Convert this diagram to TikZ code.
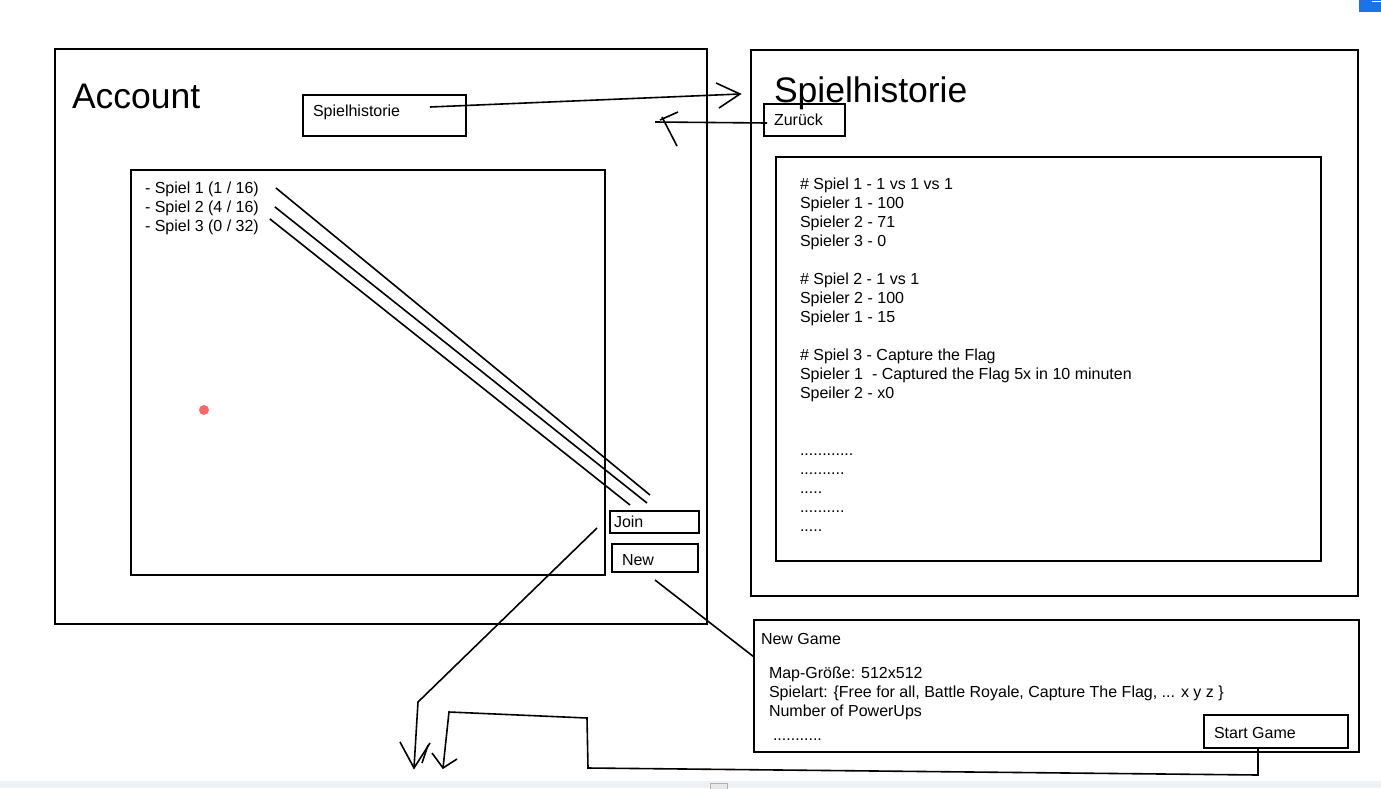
\documentclass[tikz,border=0pt]{standalone}
\usepackage{fontspec}
\setmainfont{Liberation Sans}
\usetikzlibrary{positioning}
\definecolor{barblue}{RGB}{26,115,232}
\definecolor{bargray}{RGB}{238,241,244}
\definecolor{knobgray}{RGB}{232,232,232}
\definecolor{knobedge}{RGB}{176,176,176}
\definecolor{dotred}{RGB}{255,102,102}

\begin{document}
\begin{tikzpicture}[x = 1pt, y = -1pt, line width = 1.6pt,
        every node/.style = {inner sep = 0pt, outer sep = 0pt},
        frame/.style = {draw, anchor = north west},
        txt/.style = {anchor = base west, align = left, font = \fontsize{16}{19}\selectfont},
        pagetitle/.style = {anchor = base west, font = \fontsize{35.5}{40}\selectfont}]
    \useasboundingbox (0,0) rectangle (1381,788);
    \fill[white] (0,0) rectangle (1381,788);
    \fill[barblue] (1359,0) rectangle (1381,12);
    \draw[white, line width = 1pt] (1372,1.5) -- (1381,1.5);
    \fill[bargray] (0,781) rectangle (1381,788);
    \draw[knobedge, line width = 0.8pt, fill = knobgray] (710,783) rectangle (727,790);

    \node[frame, minimum width = 652, minimum height = 575] (account) at (55,49) {};
    \node[pagetitle] (accountTitle) at (72,108) {Account};
    \node[frame, minimum width = 163, minimum height = 41] (histBtn) at (303,95) {};
    \node[txt] (histBtnText) at (313,116) {Spielhistorie};
    \node[frame, minimum width = 474, minimum height = 405] (gameList) at (131,170) {};
    \node[txt] (spiel1) at (145,193) {- Spiel 1 (1 / 16)};
    \node[txt] (spiel2) at (145,212) {- Spiel 2 (4 / 16)};
    \node[txt] (spiel3) at (145,231) {- Spiel 3 (0 / 32)};
    \fill[dotred] (204,410) circle (5);
    \node[frame, minimum width = 89, minimum height = 22] (join) at (610,511) {};
    \node[txt] (joinText) at (614,527) {Join};
    \node[frame, minimum width = 86, minimum height = 28] (new) at (612,544) {};
    \node[txt] (newText) at (622,565) {New};

    \node[frame, minimum width = 607, minimum height = 546] (history) at (751,50) {};
    \node[pagetitle] (historyTitle) at (774,102) {Spielhistorie};
    \node[frame, minimum width = 81, minimum height = 32] (back) at (764,104) {};
    \node[txt] (backText) at (774,125) {Zurück};
    \node[frame, minimum width = 545, minimum height = 404] (results) at (776,157) {};
    \node[txt] (resultsText) at (800,531) {\# Spiel 1 - 1 vs 1 vs 1\\ Spieler 1 - 100\\ Spieler 2 - 71\\ Spieler 3 - 0\\[19pt]
        \# Spiel 2 - 1 vs 1\\ Spieler 2 - 100\\ Spieler 1 - 15\\[19pt]
        \# Spiel 3 - Capture the Flag\\ Spieler 1~ - Captured the Flag 5x in 10 minuten\\ Speiler 2 - x0\\[38pt]
        ............\\ ..........\\ .....\\ ..........\\ .....};

    \node[frame, minimum width = 605, minimum height = 132] (newGame) at (754,620) {};
    \node[txt] (newGameTitle) at (761,644) {New Game};
    \node[txt] (settings) at (769,716) {Map-Größe: 512x512\\ Spielart: \{Free for all, Battle Royale, Capture The Flag, ... x y z \}\\ Number of PowerUps};
    \node[txt] (settingsMore) at (773,740) {...........};
    \node[frame, minimum width = 144, minimum height = 33] (start) at (1204,715) {};
    \node[txt] (startText) at (1214,738) {Start Game};

    \coordinate (histFrom) at (430,107);
    \coordinate (histTip) at (740,94);
    \draw (histFrom) -- (histTip);
    \draw (histTip) ++(-24,-11) -- (histTip) -- ++(-21,14);

    \coordinate (backFrom) at (767,123);
    \coordinate (backTip) at (655,122);
    \draw (backFrom) -- (backTip);
    \draw (backTip) ++(5,-2) -- ++(18,-8);
    \draw (backTip) ++(7,-5) -- ++(15,29);

    \coordinate (spiel1End) at (650,495);
    \coordinate (spiel2End) at (647,503);
    \coordinate (spiel3End) at (630,505);
    \draw (spiel1.east) ++(17,-1) -- (spiel1End);
    \draw (spiel2.east) ++(16,-1) -- (spiel2End);
    \draw (spiel3.east) ++(11,-8) -- (spiel3End);

    \coordinate (joinFrom) at (597,528);
    \coordinate (joinTip) at (414,768);
    \draw (joinFrom) -- (418,702) -- (joinTip);
    \draw (joinTip) ++(-14,-26) -- (joinTip) -- ++(16,-25);
    \draw (joinTip) ++(8,-5) -- ++(6,-18);

    \coordinate (newFrom) at (655,580);
    \draw (newFrom) -- (newGame.west |- 0,657);

    \coordinate (startTip) at (443,768);
    \draw (start.south -| 1258,0) -- (1258,775) -- (588,768) -- (587,718) -- (449,712) -- (startTip);
    \draw (startTip) ++(-11,-15) -- (startTip) -- ++(14,-9);
\end{tikzpicture}
\end{document}
